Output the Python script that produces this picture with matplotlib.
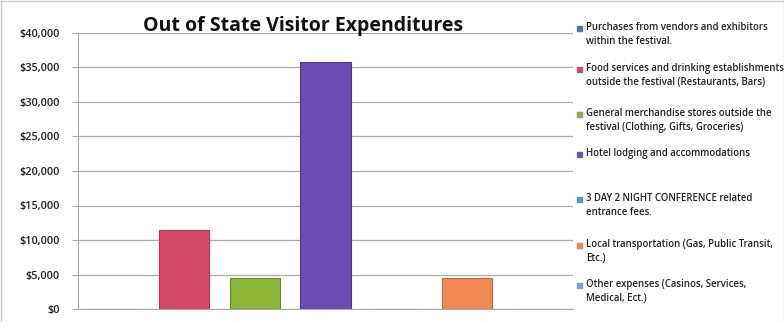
import matplotlib
matplotlib.use("Agg")
import matplotlib.pyplot as plt
from matplotlib.patches import Rectangle
from matplotlib.ticker import FuncFormatter

categories = [
    "Purchases from vendors and exhibitors\nwithin the festival.",
    "Food services and drinking establishments\noutside the festival (Restaurants, Bars)",
    "General merchandise stores outside the\nfestival (Clothing, Gifts, Groceries)",
    "Hotel lodging and accommodations",
    "3 DAY 2 NIGHT CONFERENCE related\nentrance fees.",
    "Local transportation (Gas, Public Transit,\nEtc.)",
    "Other expenses (Casinos, Services,\nMedical, Ect.)",
]
expenditures = [0, 11500, 4500, 35800, 0, 4500, 0]
colors = ["#4F6FBF", "#D2496A", "#8CB53A", "#6A4CB5", "#4BA3B5", "#F08A55", "#7F9FD9"]
edge_colors = ["#3A558F", "#A8384F", "#6A8A2A", "#4F3888", "#357A88", "#C06838", "#5F7AAA"]
y_ticks = [0, 5000, 10000, 15000, 20000, 25000, 30000, 35000, 40000]

plt.rcParams["font.family"] = ["Open Sans", "DejaVu Sans"]

W, H = 784, 322
fig = plt.figure(figsize=(W / 100, H / 100), dpi=100)
fig.patch.set_facecolor("white")

ax = fig.add_axes([78 / W, 1 - 309 / H, (573 - 78) / W, (309 - 33) / H])
x = list(range(len(categories)))
ax.bar(x, expenditures, width=0.71, color=colors, edgecolor=edge_colors,
       linewidth=0.8, zorder=3)

ax.set_xlim(-0.5, len(categories) - 0.5)
ax.set_ylim(0, 40000)
ax.set_yticks(y_ticks)
ax.yaxis.set_major_formatter(FuncFormatter(lambda v, _: f"${v:,.0f}"))
ax.set_xticks([])
ax.grid(axis="y", color="#AAAAAA", linewidth=0.9, zorder=0)
for side in ("top", "right"):
    ax.spines[side].set_visible(False)
ax.spines["left"].set_color("#AAAAAA")
ax.spines["bottom"].set_color("#AAAAAA")
ax.tick_params(axis="y", length=4, color="#AAAAAA", labelsize=7.8,
               labelcolor="#222222", pad=9)
for lbl in ax.get_yticklabels():
    lbl.set_fontweight("semibold")

fig.text(303 / W, 1 - 30.5 / H, "Out of State Visitor Expenditures",
         ha="center", va="baseline", fontsize=14, fontweight="bold", color="#111111")

# Legend: one square marker with a text block per series
legend_rows = [29, 70, 115, 155, 200, 246, 286]
for label, col, y in zip(categories, colors, legend_rows):
    fig.patches.append(Rectangle((577 / W, 1 - (y + 3) / H), 6 / W, 6 / H,
                                 transform=fig.transFigure, facecolor=col,
                                 edgecolor="#888888", linewidth=0.3))
    fig.text(586 / W, 1 - (y - 7) / H, label, ha="left", va="top",
             fontsize=6.9, fontweight="semibold", color="#222222",
             linespacing=1.42)

fig.patches.append(Rectangle((0.5 / W, 0.5 / H), (W - 1) / W, (H - 1) / H,
                             transform=fig.transFigure, fill=False,
                             edgecolor="#C8C8C8", linewidth=1.0))

fig.savefig("out.png", dpi=100, facecolor="white")
